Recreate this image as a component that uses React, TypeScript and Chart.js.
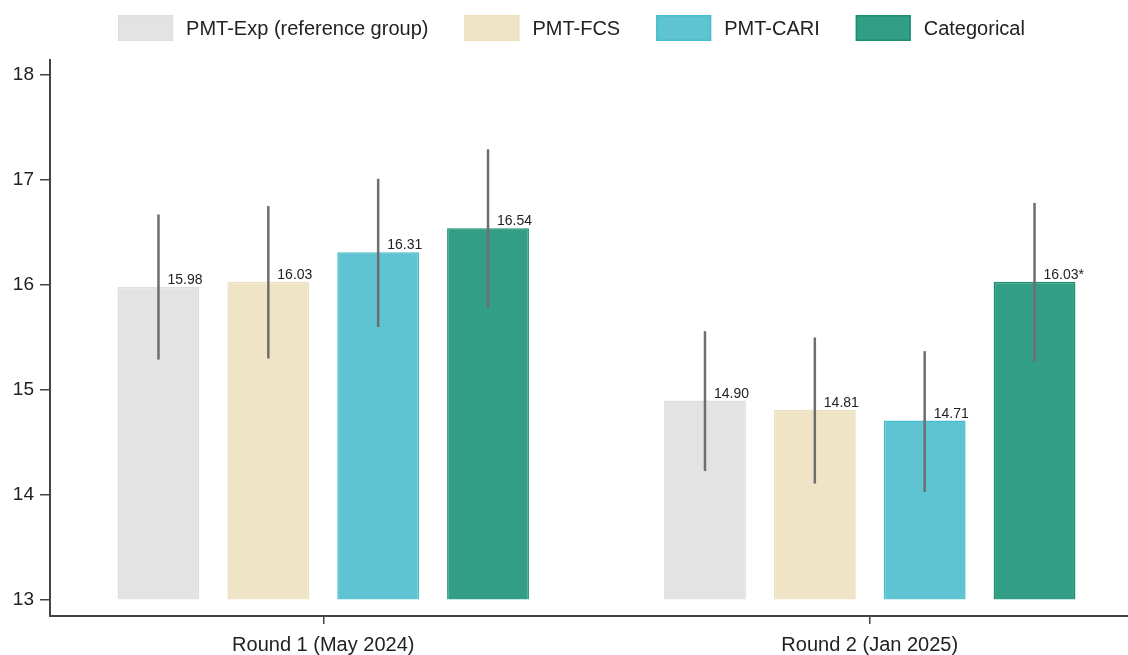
import React, { useEffect, useRef } from "react";
import { Chart, registerables } from "chart.js";

Chart.register(...registerables);

// ---- data ----
const categories = ["Round 1 (May 2024)", "Round 2 (Jan 2025)"];
const seriesNames = ["PMT-Exp (reference group)", "PMT-FCS", "PMT-CARI", "Categorical"];
const pmtExp = [15.98, 14.9];
const pmtFcs = [16.03, 14.81];
const pmtCari = [16.31, 14.71];
const categorical = [16.54, 16.03];
const pmtExpLow = [15.29, 14.23];
const pmtExpHigh = [16.67, 15.56];
const pmtFcsLow = [15.3, 14.11];
const pmtFcsHigh = [16.75, 15.5];
const pmtCariLow = [15.6, 14.03];
const pmtCariHigh = [17.01, 15.37];
const categoricalLow = [15.78, 15.27];
const categoricalHigh = [17.29, 16.78];
const pmtExpStars = ["", ""];
const pmtFcsStars = ["", ""];
const pmtCariStars = ["", ""];
const categoricalStars = ["", "*"];
const yTicks = [13, 14, 15, 16, 17, 18];
const yBase = 13;

// ---- styles ----
const fills = ["#e3e3e3", "#f0e4c7", "#5ec4d1", "#329e85"];
const borders = ["#dedede", "#ecdfbf", "#45bdcc", "#1b8f6e"];
const FONT = '"Liberation Sans", Arial, sans-serif';
const textColor = "#222";
const axisColor = "#444";

const values = [pmtExp, pmtFcs, pmtCari, categorical];
const lows = [pmtExpLow, pmtFcsLow, pmtCariLow, categoricalLow];
const highs = [pmtExpHigh, pmtFcsHigh, pmtCariHigh, categoricalHigh];
const stars = [pmtExpStars, pmtFcsStars, pmtCariStars, categoricalStars];

const extrasPlugin = {
  id: "extras",
  afterDatasetsDraw(chart: any) {
    const ctx = chart.ctx;
    const y = chart.scales.y;
    ctx.save();
    // error bars
    chart.data.datasets.forEach((_ds: any, di: number) => {
      const meta = chart.getDatasetMeta(di);
      meta.data.forEach((el: any, i: number) => {
        ctx.beginPath();
        ctx.strokeStyle = "#6e6e6e";
        ctx.lineWidth = 2.5;
        ctx.moveTo(el.x, y.getPixelForValue(lows[di][i]));
        ctx.lineTo(el.x, y.getPixelForValue(highs[di][i]));
        ctx.stroke();
      });
    });
    // value labels
    ctx.font = `14px ${FONT}`;
    ctx.fillStyle = textColor;
    ctx.textAlign = "left";
    ctx.textBaseline = "alphabetic";
    chart.data.datasets.forEach((_ds: any, di: number) => {
      const meta = chart.getDatasetMeta(di);
      meta.data.forEach((el: any, i: number) => {
        const txt = values[di][i].toFixed(2) + stars[di][i];
        ctx.fillText(txt, el.x + 9, el.y - 3);
      });
    });
    ctx.restore();
  },
  afterDraw(chart: any) {
    // legend
    const ctx = chart.ctx;
    ctx.save();
    ctx.font = `20px ${FONT}`;
    const boxW = 55, boxH = 26, gap = 13, itemGap = 36;
    const widths = seriesNames.map((n) => ctx.measureText(n).width);
    const total = widths.reduce((a, w) => a + boxW + gap + w, 0) + itemGap * (seriesNames.length - 1);
    let x = chart.width / 2 - total / 2;
    const top = 15;
    seriesNames.forEach((n, i) => {
      ctx.fillStyle = fills[i];
      ctx.fillRect(x, top, boxW, boxH);
      ctx.strokeStyle = borders[i];
      ctx.lineWidth = 1.5;
      ctx.strokeRect(x + 0.75, top + 0.75, boxW - 1.5, boxH - 1.5);
      ctx.fillStyle = textColor;
      ctx.textBaseline = "middle";
      ctx.textAlign = "left";
      ctx.fillText(n, x + boxW + gap, top + boxH / 2 + 1);
      x += boxW + gap + widths[i] + itemGap;
    });
    ctx.restore();
  },
};

export default function App() {
  const ref = useRef<HTMLCanvasElement | null>(null);
  useEffect(() => {
    if (!ref.current) return;
    const chart = new Chart(ref.current, {
      type: "bar",
      data: {
        labels: categories,
        datasets: seriesNames.map((name, i) => ({
          label: name,
          data: values[i],
          base: yBase,
          backgroundColor: fills[i],
          borderColor: borders[i],
          borderWidth: 1.5,
          categoryPercentage: 0.804,
          barPercentage: 0.745,
        })),
      },
      options: {
        animation: false,
        responsive: false,
        layout: { padding: { top: 60, right: 0, left: 0, bottom: 0 } },
        plugins: {
          legend: { display: false },
          tooltip: { enabled: false },
        },
        scales: {
          x: {
            offset: true,
            grid: { display: true, drawOnChartArea: false, drawTicks: true, tickLength: 8, offset: false, color: axisColor, lineWidth: 1.5 },
            border: { display: true, color: axisColor, width: 2 },
            ticks: { font: { family: FONT, size: 20 }, color: textColor, padding: 9 },
            afterFit: (s: any) => { s.height = 39; },
          },
          y: {
            min: 12.85,
            max: 18.14,
            afterBuildTicks: (s: any) => { s.ticks = yTicks.map((v) => ({ value: v })); },
            grid: { display: true, drawOnChartArea: false, drawTicks: true, tickLength: 10, color: axisColor, lineWidth: 1.5 },
            border: { display: true, color: axisColor, width: 2 },
            ticks: { font: { family: FONT, size: 19 }, color: textColor, padding: 6 },
            afterFit: (s: any) => { s.width = 50; },
          },
        },
      },
      plugins: [extrasPlugin],
    });
    return () => chart.destroy();
  }, []);
  return (
    <div style={{ position: "fixed", left: 0, top: 0, width: 1128, height: 655, overflow: "hidden", background: "#fff" }}>
      <canvas ref={ref} width={1143} height={655} style={{ display: "block" }} />
    </div>
  );
}
